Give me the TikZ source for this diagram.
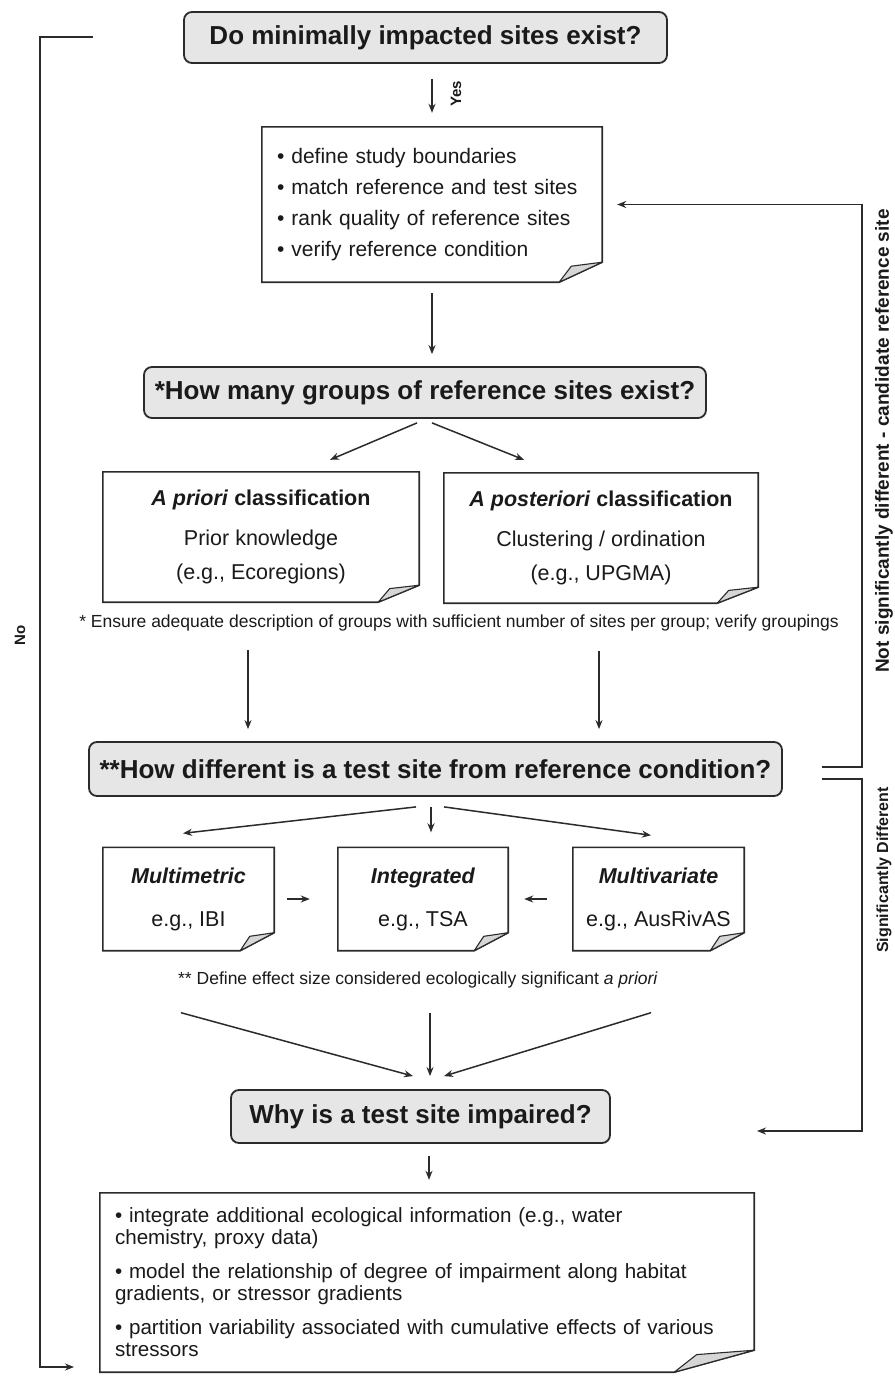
\documentclass[tikz,border=0pt]{standalone}
\usepackage{fontspec}
\setmainfont{Liberation Sans}
\usetikzlibrary{arrows.meta}
\newcommand\fsz[2]{\fontsize{#1}{#2}\selectfont}
\definecolor{linec}{HTML}{2B2B2B}
\definecolor{textc}{HTML}{1A1A1A}
\definecolor{boxfill}{HTML}{E6E6E6}
\definecolor{flapfill}{HTML}{D6D6D6}
\newcommand\docframe[3]{%
  \draw[docline] (#1.north west) -- (#1.north east) -- ([yshift=#3pt]#1.south east) -- ([xshift=-#2pt]#1.south east) -- (#1.south west) -- cycle;
  \draw[flapline] ([xshift=-#2pt]#1.south east) -- ([xshift={-0.72*#2pt},yshift={0.8*#3pt}]#1.south east) -- ([yshift=#3pt]#1.south east) -- cycle;
}
\begin{document}
\begin{tikzpicture}[x=1pt,y=-1pt,
  qbox/.style={draw=linec, line width=1.8pt, fill=boxfill, rounded corners=8pt,
    inner sep=0pt, text=textc, font=\fsz{26}{30}\bfseries},
  docnode/.style={inner sep=0pt, text=textc},
  docline/.style={draw=linec, line width=1.6pt, line join=miter},
  flapline/.style={draw=linec, line width=1.1pt, fill=flapfill, line join=round},
  arr/.style={draw=linec, line width=1.5pt, -{Stealth[length=9pt,width=7pt]}},
  sidelabel/.style={rotate=90, text=textc, inner sep=0pt},
  note/.style={text=textc, inner sep=0pt, font=\fsz{17.5}{20}}
]
\fill[white] (0,0) rectangle (894,1381);
\useasboundingbox (0,0) rectangle (894,1381);

% boxes
\node[qbox, minimum width=483pt, minimum height=51pt] (b1) at (425.5,37.5) {Do minimally impacted sites exist?};

\node[docnode, minimum width=340pt, minimum height=155pt, text width=310pt, align=left, font=\fsz{21}{31}] (b2) at (432,204.5)
  {• define study boundaries\\• match reference and test sites\\• rank quality of reference sites\\• verify reference condition};
\docframe{b2}{43}{20}

\node[qbox, minimum width=562pt, minimum height=51pt] (b3) at (425,392.5) {*How many groups of reference sites exist?};

\node[docnode, minimum width=316pt, minimum height=130pt, align=center, font=\fsz{21.5}{34}] (b4) at (261,537)
  {\textbf{\textit{A priori} classification}\\[6pt]Prior knowledge\\(e.g., Ecoregions)};
\docframe{b4}{41}{17}

\node[docnode, minimum width=314pt, minimum height=130pt, align=center, font=\fsz{21.5}{34}] (b5) at (601,538)
  {\textbf{\textit{A posteriori} classification}\\[6pt]Clustering / ordination\\(e.g., UPGMA)};
\docframe{b5}{41}{16}

\node[note] (f1) at (459,623) {* Ensure adequate description of groups with sufficient number of sites per group; verify groupings};

\node[qbox, minimum width=693pt, minimum height=54pt] (b6) at (435.5,769) {**How different is a test site from reference condition?};

\node[docnode, minimum width=171pt, minimum height=103pt, align=center, font=\fsz{21.5}{43}] (b7) at (188.5,899)
  {\textbf{\textit{Multimetric}}\\e.g., IBI};
\docframe{b7}{34}{18}
\node[docnode, minimum width=170pt, minimum height=103pt, align=center, font=\fsz{21.5}{43}] (b8) at (423,899)
  {\textbf{\textit{Integrated}}\\e.g., TSA};
\docframe{b8}{34}{18}
\node[docnode, minimum width=171pt, minimum height=103pt, align=center, font=\fsz{21.5}{43}] (b9) at (658.5,899)
  {\textbf{\textit{Multivariate}}\\e.g., AusRivAS};
\docframe{b9}{34}{18}

\node[note, anchor=east] (f2) at (658,980) {** Define effect size considered ecologically significant \textit{a priori}};

\node[qbox, minimum width=379pt, minimum height=53pt] (b10) at (420.5,1116.5) {Why is a test site impaired?};

\node[docnode, minimum width=654pt, minimum height=179pt, text width=624pt, align=left, font=\fsz{20.6}{22}] (b11) at (427,1282.5)
  {• integrate additional ecological information (e.g., water\\chemistry, proxy data)\\[12pt]• model the relationship of degree of impairment along habitat\\gradients, or stressor gradients\\[12pt]• partition variability associated with cumulative effects of various\\stressors};
\docframe{b11}{80}{22}

% free ends
\coordinate (sideL) at (40,0);
\coordinate (sideR) at (862,0);
\coordinate (noStart) at (93,37);
\coordinate (noEnd) at (74,1367);
\coordinate (nsStart) at (822,767);
\coordinate (sdStart) at (822,779);
\coordinate (sdEnd) at (757,1131);

% connectors
\draw[arr, shorten <=15pt, shorten >=14pt] (b1.south -| b2.north) -- (b2.north);
\node[sidelabel, font=\fsz{15}{17}\bfseries] (yes) at (456,94) {Yes};
\draw[arr, shorten <=11pt, shorten >=12pt] (b2.south) -- (b2.south |- b3.north);

\draw[arr] ([xshift=-8pt,yshift=-4pt]b3.south) -- ([xshift=69pt,yshift=12pt]b4.north);
\draw[arr] ([xshift=7pt,yshift=-4pt]b3.south) -- ([xshift=-77pt,yshift=13pt]b5.north);

\draw[arr, shorten >=12pt] ([xshift=-13pt,yshift=-48pt]b4.south) -- ([xshift=-13pt]b4.south |- b6.north);
\draw[arr, shorten >=12pt] ([xshift=-2pt,yshift=-48pt]b5.south) -- ([xshift=-2pt]b5.south |- b6.north);

\draw[arr] ([xshift=-19.5pt,yshift=-10pt]b6.south) -- ([xshift=-5.5pt,yshift=14pt]b7.north);
\draw[arr] ([xshift=-4.5pt,yshift=-10pt]b6.south) -- ([xshift=8pt,yshift=15pt]b8.north);
\draw[arr] ([xshift=8.5pt,yshift=-10pt]b6.south) -- ([xshift=-7.5pt,yshift=12pt]b9.north);

\draw[arr, shorten <=13pt, shorten >=28pt] (b7.east) -- (b8.west);
\draw[arr, shorten <=26pt, shorten >=16pt] (b9.west) -- (b8.east);

\draw[arr] ([xshift=-7.5pt,yshift=-62pt]b7.south) -- ([xshift=-7.5pt,yshift=13pt]b10.north);
\draw[arr] ([xshift=7pt,yshift=-62pt]b8.south) -- ([xshift=9.5pt,yshift=13pt]b10.north);
\draw[arr] ([xshift=-7.5pt,yshift=-62pt]b9.south) -- ([xshift=23.5pt,yshift=13pt]b10.north);

\draw[arr, shorten <=12pt, shorten >=13pt] ([xshift=8.5pt]b10.south) -- ([xshift=8.5pt]b10.south |- b11.north);

\draw[arr] (noStart) -- (noStart -| sideL) |- (noEnd);
\node[sidelabel, font=\fsz{15}{17}\bfseries] (nolab) at (20,635) {No};

\draw[arr, shorten >=15pt] (nsStart) -- (nsStart -| sideR) |- (b2.east);
\node[sidelabel, font=\fsz{19}{21}\bfseries] (nslab) at (884,441) {Not significantly different - candidate reference site};

\draw[arr] (sdStart) -- (sdStart -| sideR) |- (sdEnd);
\node[sidelabel, font=\fsz{16}{18}\bfseries] (sdlab) at (884,870) {Significantly Different};
\end{tikzpicture}
\end{document}
